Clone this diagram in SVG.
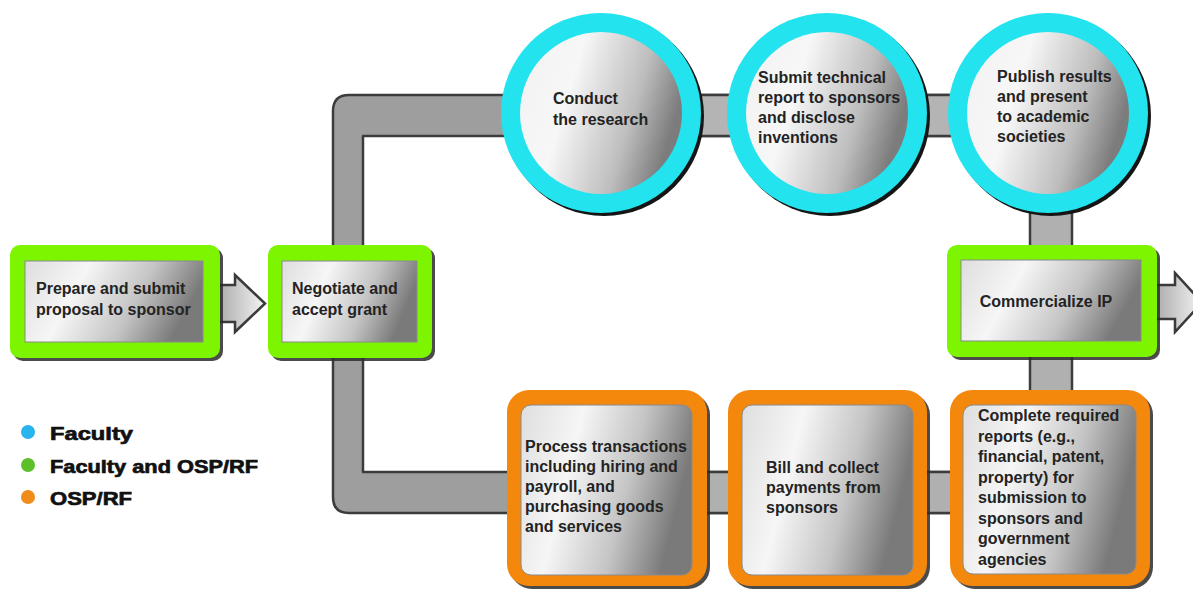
<svg xmlns="http://www.w3.org/2000/svg" width="1193" height="591" viewBox="0 0 1193 591">
<defs>
<linearGradient id="panel" x1="0" y1="0" x2="1" y2="0.25">
<stop offset="0" stop-color="#dedede"/>
<stop offset="0.35" stop-color="#f6f6f6"/>
<stop offset="0.7" stop-color="#c4c4c4"/>
<stop offset="1" stop-color="#7a7a7a"/>
</linearGradient>
<linearGradient id="ball" x1="0" y1="0.1" x2="1" y2="0.4">
<stop offset="0" stop-color="#f2f2f2"/>
<stop offset="0.35" stop-color="#f7f7f7"/>
<stop offset="0.75" stop-color="#bdbdbd"/>
<stop offset="1" stop-color="#7c7c7c"/>
</linearGradient>
<linearGradient id="arrowFill" x1="0" y1="0" x2="1" y2="0">
<stop offset="0" stop-color="#a8a8a8"/>
<stop offset="1" stop-color="#f4f4f4"/>
</linearGradient>
<style>
.pipe{fill:#9e9e9e;stroke:#3c3c3c;stroke-width:2.5;stroke-linejoin:round}
.arrow{fill:url(#arrowFill);stroke:#3a3a3a;stroke-width:2.5;stroke-linejoin:miter}
.shadow{fill:#2b2b2b;opacity:0.85}
.green{fill:#7ef500}
.orange{fill:#f4880c}
.cyan{fill:#22e3ee}
.panel{fill:url(#panel);stroke:#8a8a8a;stroke-width:1}
.ball{fill:url(#ball)}
.t{font-family:"Liberation Sans",Arial,sans-serif;font-weight:bold;font-size:16px;fill:#232323}
.lg{font-family:"Liberation Sans",Arial,sans-serif;font-weight:900;font-size:19px;fill:#111;stroke:#111;stroke-width:0.7}
</style>
</defs>
<rect width="1193" height="591" fill="#ffffff"/>

<g id="connectors">
<path class="pipe" d="M333,252 V111 Q333,95 349,95 H1000 V136 H363 V252 Z"/>
<rect class="pipe" x="700" y="95" width="40" height="41" style="fill:#b4b4b4"/>
<rect class="pipe" x="915" y="95" width="45" height="41" style="fill:#b4b4b4"/>
<rect class="pipe" x="1030" y="190" width="42" height="215" style="fill:#b0b0b0"/>
<path class="pipe" d="M333,352 V497 Q333,513 349,513 H1000 V472 H363 V352 Z"/>
<rect class="pipe" x="700" y="472" width="40" height="41" style="fill:#b0b0b0"/>
<rect class="pipe" x="920" y="472" width="40" height="41" style="fill:#b0b0b0"/>
<path class="arrow" d="M216,285 H235 V275 L265,303.5 L235,332 V322 H216 Z"/>
<path class="arrow" d="M1153,285 H1175 V273 L1202,302.5 L1175,332 V319 H1153 Z"/>
</g>

<g id="prepare">
<rect class="shadow" x="13" y="248" width="210" height="113" rx="10"/>
<rect class="green" x="10" y="245" width="210" height="113" rx="10"/>
<rect class="panel" x="25" y="261" width="178" height="81"/>
<text class="t" x="36" y="294">Prepare and submit</text>
<text class="t" x="36" y="315">proposal to sponsor</text>
</g>

<g id="negotiate">
<rect class="shadow" x="271" y="248" width="164" height="113" rx="10"/>
<rect class="green" x="268" y="245" width="164" height="113" rx="10"/>
<rect class="panel" x="282" y="261" width="135" height="81"/>
<text class="t" x="292" y="294">Negotiate and</text>
<text class="t" x="292" y="315">accept grant</text>
</g>

<g id="conduct">
<circle cx="604" cy="116" r="100" fill="#151515"/>
<circle class="cyan" cx="601" cy="113" r="100"/>
<circle class="ball" cx="601" cy="113" r="81"/>
<text class="t" x="553" y="104">Conduct</text>
<text class="t" x="553" y="125">the research</text>
</g>

<g id="submit">
<circle cx="830" cy="116" r="100" fill="#151515"/>
<circle class="cyan" cx="827" cy="113" r="100"/>
<circle class="ball" cx="827" cy="113" r="81"/>
<text class="t" x="758" y="83">Submit technical</text>
<text class="t" x="758" y="103">report to sponsors</text>
<text class="t" x="758" y="123">and disclose</text>
<text class="t" x="758" y="143">inventions</text>
</g>

<g id="publish">
<circle cx="1051" cy="116" r="100" fill="#151515"/>
<circle class="cyan" cx="1048" cy="113" r="100"/>
<circle class="ball" cx="1048" cy="113" r="81"/>
<text class="t" x="997" y="82">Publish results</text>
<text class="t" x="997" y="102">and present</text>
<text class="t" x="997" y="122">to academic</text>
<text class="t" x="997" y="142">societies</text>
</g>

<g id="commercialize">
<rect class="shadow" x="950" y="248" width="210" height="112" rx="10"/>
<rect class="green" x="947" y="245" width="210" height="112" rx="10"/>
<rect class="panel" x="961" y="260" width="180" height="81"/>
<text class="t" x="1046" y="307" text-anchor="middle">Commercialize IP</text>
</g>

<g id="process">
<rect class="shadow" x="510" y="393" width="200" height="196" rx="22"/>
<rect class="orange" x="507" y="390" width="200" height="196" rx="22"/>
<rect class="panel" x="521" y="405" width="171" height="170" rx="10"/>
<text class="t" x="525" y="452">Process transactions</text>
<text class="t" x="525" y="472">including hiring and</text>
<text class="t" x="525" y="492">payroll, and</text>
<text class="t" x="525" y="512">purchasing goods</text>
<text class="t" x="525" y="532">and services</text>
</g>

<g id="bill">
<rect class="shadow" x="731" y="393" width="199" height="196" rx="22"/>
<rect class="orange" x="728" y="390" width="199" height="196" rx="22"/>
<rect class="panel" x="742" y="405" width="171" height="170" rx="10"/>
<text class="t" x="766" y="473">Bill and collect</text>
<text class="t" x="766" y="493">payments from</text>
<text class="t" x="766" y="513">sponsors</text>
</g>

<g id="complete">
<rect class="shadow" x="953" y="393" width="200" height="196" rx="22"/>
<rect class="orange" x="950" y="390" width="200" height="196" rx="22"/>
<rect class="panel" x="963" y="405" width="173" height="169" rx="10"/>
<text class="t" x="978" y="421">Complete required</text>
<text class="t" x="978" y="441.5">reports (e.g.,</text>
<text class="t" x="978" y="462">financial, patent,</text>
<text class="t" x="978" y="482.5">property) for</text>
<text class="t" x="978" y="503">submission to</text>
<text class="t" x="978" y="523.5">sponsors and</text>
<text class="t" x="978" y="544">government</text>
<text class="t" x="978" y="564.5">agencies</text>
</g>

<g id="legend">
<circle cx="28" cy="432" r="7" fill="#2ab4ef"/>
<text class="lg" x="50" y="440" textLength="83" lengthAdjust="spacingAndGlyphs">Faculty</text>
<circle cx="28" cy="465" r="7" fill="#5cc02a"/>
<text class="lg" x="50" y="473" textLength="208" lengthAdjust="spacingAndGlyphs">Faculty and OSP/RF</text>
<circle cx="28" cy="497" r="7" fill="#f08c1c"/>
<text class="lg" x="50" y="505" textLength="82" lengthAdjust="spacingAndGlyphs">OSP/RF</text>
</g>
</svg>
